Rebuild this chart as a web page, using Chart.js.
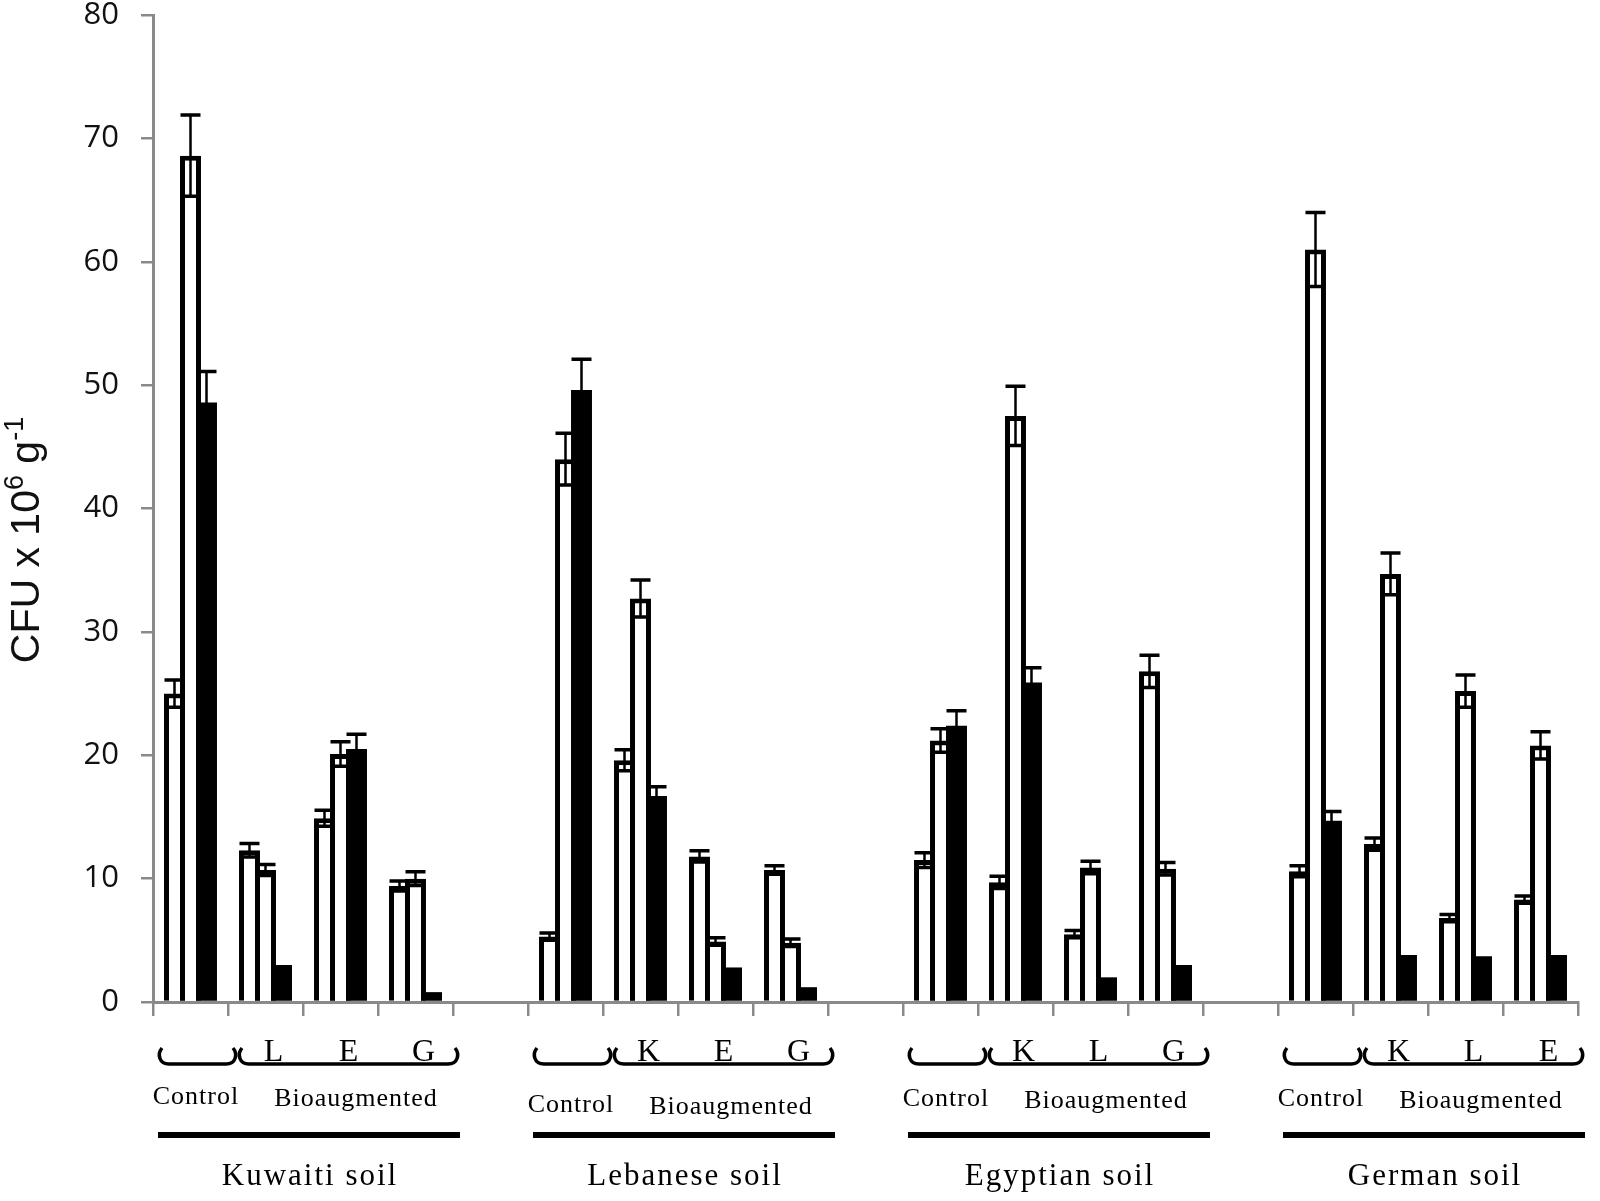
<!DOCTYPE html>
<html>
<head>
<meta charset="utf-8">
<script src="https://cdn.jsdelivr.net/npm/chart.js@4/dist/chart.umd.min.js"></script>
<style>
  body { margin: 0; background: #fff; }
  #cfu { display: block; }
</style>
</head>
<body>
<canvas id="cfu" width="1600" height="1201"></canvas>
<script>
// 19 slots: 4 treatment groups per soil, one empty slot between soils
const categories = ['Control', 'L', 'E', 'G', '',
                    'Control', 'K', 'E', 'G', '',
                    'Control', 'K', 'L', 'G', '',
                    'Control', 'K', 'L', 'E'];
const soils = ['Kuwaiti soil', 'Lebanese soil', 'Egyptian soil', 'German soil'];
const yTicks = [0, 10, 20, 30, 40, 50, 60, 70, 80];

// first white bar, second white bar, black bar (CFU x 10^6 per g)
const whiteA    = [25.0, 12.3, 14.9, 9.4, null, 5.3, 19.6, 11.8, 10.7, null, 11.5, 9.7, 5.5, 26.8, null, 10.6, 12.8, 6.8, 8.3];
const whiteAErr = [1.1, 0.55, 0.65, 0.4, null, 0.3, 0.85, 0.45, 0.35, null, 0.6, 0.5, 0.3, 1.3, null, 0.45, 0.5, 0.3, 0.3];
const whiteB    = [68.6, 10.7, 20.1, 10.0, null, 44.0, 32.7, 4.9, 4.8, null, 21.2, 47.5, 10.9, 10.8, null, 61.0, 34.7, 25.2, 20.8];
const whiteBErr = [3.3, 0.45, 1.0, 0.55, null, 2.1, 1.5, 0.3, 0.3, null, 0.95, 2.4, 0.5, 0.5, null, 3.0, 1.7, 1.3, 1.1];
const black     = [48.6, 3.0, 20.5, 0.8, null, 49.6, 16.7, 2.8, 1.2, null, 22.4, 25.9, 2.0, 3.0, null, 14.7, 3.8, 3.7, 3.8];
const blackErr  = [2.5, 0, 1.2, 0, null, 2.5, 0.75, 0, 0, null, 1.2, 1.2, 0, 0, null, 0.75, 0, 0, 0];

const errors = [whiteAErr, whiteBErr, blackErr];
const AXIS_GREY = '#8a8a8a';

// symmetric error bars drawn over the bars
const errorBars = {
    id: 'errorBars',
    afterDatasetsDraw(chart) {
        const ctx = chart.ctx;
        const y = chart.scales.y;
        ctx.save();
        ctx.strokeStyle = '#000';
        chart.data.datasets.forEach((ds, di) => {
            const meta = chart.getDatasetMeta(di);
            meta.data.forEach((bar, i) => {
                const v = ds.data[i];
                const e = errors[di][i];
                if (v == null || !e) return;
                const yHi = y.getPixelForValue(v + e);
                const yLo = y.getPixelForValue(v - e);
                ctx.lineWidth = 2.5;
                ctx.beginPath();
                ctx.moveTo(bar.x, yHi);
                ctx.lineTo(bar.x, yLo);
                ctx.stroke();
                ctx.lineWidth = 3.5;
                ctx.beginPath();
                ctx.moveTo(bar.x - 10, yHi);
                ctx.lineTo(bar.x + 10, yHi);
                ctx.moveTo(bar.x - 8, yLo);
                ctx.lineTo(bar.x + 8, yLo);
                ctx.stroke();
            });
        });
        ctx.restore();
    }
};

function brace(ctx, x1, x2, top, bottom) {
    ctx.beginPath();
    ctx.moveTo(x1 + 2, top);
    ctx.bezierCurveTo(x1 - 3, top + 6, x1 - 1, bottom, x1 + 9, bottom);
    ctx.lineTo(x2 - 9, bottom);
    ctx.bezierCurveTo(x2 + 1, bottom, x2 + 3, top + 6, x2 - 2, top);
    ctx.stroke();
}

// group letters, braces, Control / Bioaugmented, soil names, y title
const annotations = {
    id: 'annotations',
    afterDraw(chart) {
        const ctx = chart.ctx;
        const x = chart.scales.x;
        const slot = x.width / categories.length;
        const textDrop = [0, 8, 2, 2];
        ctx.save();
        ctx.fillStyle = '#000';
        ctx.strokeStyle = '#000';

        soils.forEach((name, s) => {
            const first = s * 5;
            const left = x.getPixelForValue(first) - slot / 2;

            ctx.lineWidth = 3.5;
            brace(ctx, left + 7, left + 82, 1048, 1064);
            brace(ctx, left + 87, left + 304, 1048, 1064);

            ctx.textAlign = 'center';
            ctx.textBaseline = 'alphabetic';
            ctx.font = '32px "Liberation Serif"';
            ctx.letterSpacing = '0px';
            for (let k = 1; k < 4; k++) {
                ctx.fillText(categories[first + k], x.getPixelForValue(first + k) + 8, 1061);
            }

            ctx.font = '26px "Liberation Serif"';
            ctx.letterSpacing = '1px';
            ctx.fillText('Control', left + 43, 1104 + textDrop[s]);
            ctx.fillText('Bioaugmented', left + 203, 1106 + textDrop[s]);

            ctx.fillRect(left + 5, 1132, 302, 6);

            ctx.font = '31px "Liberation Serif"';
            ctx.letterSpacing = '2px';
            ctx.fillText(name, left + 157, 1185);
        });

        // rotated y-axis title with superscripts
        ctx.letterSpacing = '0px';
        ctx.translate(39, 540);
        ctx.rotate(-Math.PI / 2);
        ctx.fillStyle = '#111';
        ctx.textAlign = 'left';
        const parts = [
            ['CFU x 10', 41, 0],
            ['6', 27, -16],
            [' g', 41, 0],
            ['-1', 27, -16]
        ];
        let total = 0;
        parts.forEach(p => {
            ctx.font = p[1] + 'px "Liberation Sans"';
            total += ctx.measureText(p[0]).width;
        });
        let pos = -total / 2;
        parts.forEach(p => {
            ctx.font = p[1] + 'px "Liberation Sans"';
            ctx.fillText(p[0], pos, p[2]);
            pos += ctx.measureText(p[0]).width;
        });
        ctx.restore();
    }
};

const barStyle = {
    borderColor: '#000',
    borderSkipped: 'start',
    barPercentage: 1.31,
    categoryPercentage: 0.64
};

const cfuChart = new Chart(document.getElementById('cfu').getContext('2d'), {
    type: 'bar',
    data: {
        labels: categories,
        datasets: [
            Object.assign({ label: 'white 1', data: whiteA, backgroundColor: '#fff', borderWidth: 5 }, barStyle),
            Object.assign({ label: 'white 2', data: whiteB, backgroundColor: '#fff', borderWidth: 5 }, barStyle),
            Object.assign({ label: 'black', data: black, backgroundColor: '#000', borderWidth: 0 }, barStyle)
        ]
    },
    options: {
        responsive: false,
        animation: false,
        devicePixelRatio: 1,
        layout: { padding: { top: 15, right: 22, left: 0, bottom: 0 } },
        plugins: {
            legend: { display: false },
            tooltip: { enabled: false }
        },
        scales: {
            x: {
                offset: true,
                grid: {
                    offset: true,
                    drawOnChartArea: false,
                    drawTicks: true,
                    tickLength: 14,
                    color: AXIS_GREY,
                    lineWidth: 2.5
                },
                border: { display: true, color: AXIS_GREY, width: 3 },
                ticks: { display: false },
                afterFit(scale) { scale.height = 199; }
            },
            y: {
                min: 0,
                max: 80,
                afterBuildTicks(scale) { scale.ticks = yTicks.map(v => ({ value: v })); },
                grid: {
                    drawOnChartArea: false,
                    drawTicks: true,
                    tickLength: 12,
                    color: AXIS_GREY,
                    lineWidth: 2.5
                },
                border: { display: true, color: AXIS_GREY, width: 3 },
                ticks: {
                    color: '#111',
                    padding: 22,
                    font: { family: 'Open Sans', size: 31, lineHeight: 1 }
                },
                afterFit(scale) {
                    scale.width = 153;
                    scale.paddingTop = 0;
                    scale.paddingBottom = 0;
                }
            }
        }
    },
    plugins: [errorBars, annotations]
});
</script>
</body>
</html>
